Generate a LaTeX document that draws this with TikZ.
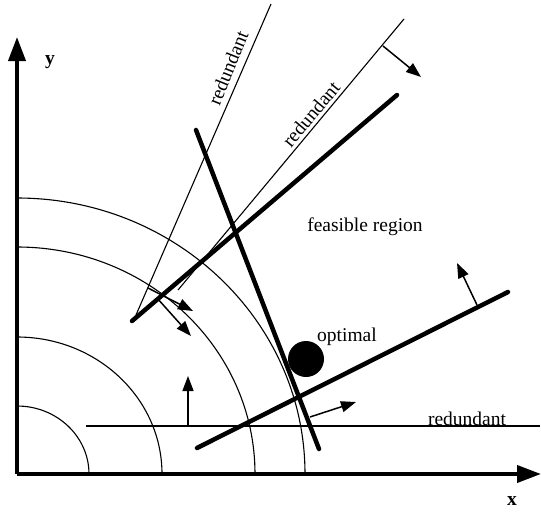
\documentclass[tikz,border=0pt]{standalone}
\usepackage{fontspec}
\setmainfont{Liberation Serif}
\usetikzlibrary{arrows.meta,calc}
\begin{document}
\begin{tikzpicture}[x=1pt,y=-1pt,
  axis/.style={line width=3.8pt,-{Triangle[length=24pt,width=17pt]}},
  thinln/.style={line width=1.1pt},
  thickln/.style={line width=4.5pt,line cap=round},
  dirarrow/.style={line width=1.5pt,-{Triangle[length=15pt,width=11pt]}},
  lbl/.style={font=\fontsize{19.5}{22}\selectfont,inner sep=0pt},
  axlbl/.style={font=\fontsize{19.5}{22}\selectfont\bfseries,inner sep=0pt}]
\useasboundingbox (0,0) rectangle (541,512);
% coordinates
\coordinate (O) at (17,474);
\coordinate (ytip) at (17,37);
\coordinate (xtip) at (541,474);
\coordinate (r1a) at (271,4);   \coordinate (r1b) at (136,315);
\coordinate (r2a) at (404,19);  \coordinate (r2b) at (178,290);
\coordinate (taa) at (132,321); \coordinate (tab) at (397,95);
\coordinate (tba) at (196,130); \coordinate (tbb) at (319,449);
\coordinate (tca) at (197,448); \coordinate (tcb) at (508,292);
\coordinate (rha) at (86,426);  \coordinate (rhb) at (540,426);
\coordinate (a1s) at (148,288); \coordinate (a1e) at (193,311);
\coordinate (a2s) at (157,298); \coordinate (a2e) at (191,336);
\coordinate (a3s) at (383,46);  \coordinate (a3e) at (421,77);
\coordinate (a4s) at (477,305); \coordinate (a4e) at (457,263);
\coordinate (a5s) at (310,417); \coordinate (a5e) at (356,402);
\coordinate (a6s) at (188,426); \coordinate (a6e) at (188,376);
% contour arcs
\foreach \rx/\ry in {72/68,145/137,238/227,288/276}
  \draw[thinln] ($(O)+(\rx,0)$) arc[start angle=0,end angle=90,x radius=\rx pt,y radius=\ry pt];
% axes
\draw[axis] (O) -- (ytip);
\draw[axis] (O) -- (xtip);
% redundant thin lines
\draw[thinln] (r1a) -- (r1b);
\draw[thinln] (r2a) -- (r2b);
\draw[thinln] (rha) -- (rhb);
% active constraints
\draw[thickln] (taa) -- (tab);
\draw[thickln] (tba) -- (tbb);
\draw[thickln] (tca) -- (tcb);
% direction arrows
\draw[dirarrow] (a1s) -- (a1e);
\draw[dirarrow] (a2s) -- (a2e);
\draw[dirarrow] (a3s) -- (a3e);
\draw[dirarrow] (a4s) -- (a4e);
\draw[dirarrow] (a5s) -- (a5e);
\draw[dirarrow] (a6s) -- (a6e);
% optimal point
\node[circle,fill=black,minimum size=36pt,inner sep=0pt] (opt) at (306,359) {};
% labels
\node[lbl] (optlbl) at (347,337) {optimal};
\node[lbl] (feas) at (365,227) {feasible region};
\node[lbl,anchor=base] (red3) at (467,425) {redundant};
\node[lbl,rotate=68] (red1) at (228,68) {redundant};
\node[lbl,rotate=50] (red2) at (311,114) {redundant};
\node[axlbl] (ylbl) at (50,62) {y};
\node[axlbl] (xlbl) at (512,501) {x};
\end{tikzpicture}
\end{document}
